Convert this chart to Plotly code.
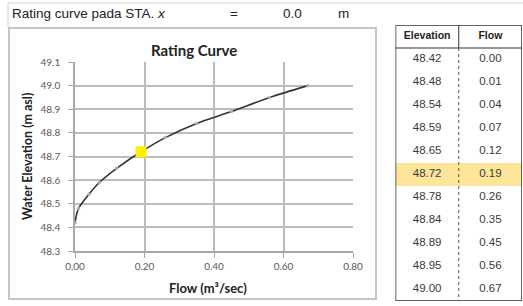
import plotly.graph_objects as go

# ---- data ----
flow = [0.00, 0.01, 0.04, 0.07, 0.12, 0.19, 0.26, 0.35, 0.45, 0.56, 0.67]
elevation = [48.42, 48.48, 48.54, 48.59, 48.65, 48.72, 48.78, 48.84, 48.89, 48.95, 49.00]
current_flow = [0.19]
current_elev = [48.72]
x_ticks = [0.0, 0.2, 0.4, 0.6, 0.8]
y_ticks = [48.3, 48.4, 48.5, 48.6, 48.7, 48.8, 48.9, 49.0, 49.1]
table_headers = ["Elevation", "Flow"]
header_text = "Rating curve pada STA. <i>x</i>"
sta_value = "0.0"
highlight_index = 5

W, H = 523, 306
def px(x):
    return x / W
def py(y):
    return 1 - y / H

fig = go.Figure()

# curve
fig.add_trace(go.Scatter(
    x=flow, y=elevation, mode="lines+markers",
    line=dict(color="#333333", width=1.6, shape="spline", smoothing=0.8),
    marker=dict(size=3.5, color="#a3adbd"),
    showlegend=False, hoverinfo="skip", xaxis="x", yaxis="y"))
fig.add_trace(go.Scatter(
    x=current_flow, y=current_elev, mode="markers",
    marker=dict(size=11, symbol="square", color="#FFEE00", line=dict(width=0)),
    showlegend=False, hoverinfo="skip", xaxis="x", yaxis="y"))

# table text through second axis pair: column 0/1, rows 0..11
n = len(flow)
rows = list(range(1, n + 1))
fig.add_trace(go.Scatter(
    x=[0.5] * n, y=rows, mode="text",
    text=[f"{v:.2f}" for v in elevation],
    textfont=dict(family="Liberation Sans, Arial", size=11.5, color="#3a3a3a"),
    showlegend=False, hoverinfo="skip", xaxis="x2", yaxis="y2"))
fig.add_trace(go.Scatter(
    x=[1.5] * n, y=rows, mode="text",
    text=[f"{v:.2f}" for v in flow],
    textfont=dict(family="Liberation Sans, Arial", size=11.5, color="#3a3a3a"),
    showlegend=False, hoverinfo="skip", xaxis="x2", yaxis="y2"))
fig.add_trace(go.Scatter(
    x=[0.5, 1.5], y=[0, 0], mode="text",
    text=[f"<b>{h}</b>" for h in table_headers],
    textfont=dict(family="Liberation Sans, Arial", size=10.5, color="#222"),
    showlegend=False, hoverinfo="skip", xaxis="x2", yaxis="y2"))

grid = "#bcbcbc"
tickfont = dict(family="Lato, Open Sans, sans-serif", size=10, color="#595959")

shapes = []
# header box lines
shapes.append(dict(type="line", xref="paper", yref="paper",
                   x0=px(8), x1=1, y0=py(3), y1=py(3),
                   line=dict(color="#cfcfcf", width=1)))
shapes.append(dict(type="line", xref="paper", yref="paper",
                   x0=px(8), x1=px(8), y0=py(3), y1=py(27),
                   line=dict(color="#cfcfcf", width=1)))
# chart box
shapes.append(dict(type="rect", xref="paper", yref="paper",
                   x0=px(9), x1=px(376), y0=py(28), y1=py(299),
                   line=dict(color="#c6c6c6", width=2)))
# table highlight row
shapes.append(dict(type="rect", xref="x2", yref="y2",
                   x0=0, x1=2, y0=highlight_index + 0.5, y1=highlight_index + 1.5,
                   fillcolor="#FFE59A", line=dict(width=0), layer="below"))
# table header separator
shapes.append(dict(type="line", xref="x2", yref="y2",
                   x0=0, x1=2, y0=0.5, y1=0.5,
                   line=dict(color="#333", width=1)))
# column divider: solid in header, dotted in body
shapes.append(dict(type="line", xref="x2", yref="y2",
                   x0=1, x1=1, y0=-0.5, y1=0.5,
                   line=dict(color="#333", width=1)))
shapes.append(dict(type="line", xref="x2", yref="y2",
                   x0=1, x1=1, y0=0.5, y1=n + 0.5,
                   line=dict(color="#555", width=1, dash="dot")))
# table outer border
shapes.append(dict(type="rect", xref="x2", yref="y2",
                   x0=0, x1=2, y0=-0.5, y1=n + 0.5,
                   line=dict(color="#333", width=1.5)))

hdr_font = dict(family="Liberation Sans, Arial", size=13.5, color="#222")
annotations = [
    dict(text=header_text, x=px(10), y=py(14), xref="paper", yref="paper",
         xanchor="left", yanchor="middle", showarrow=False, font=hdr_font),
    dict(text="=", x=px(234), y=py(14), xref="paper", yref="paper",
         xanchor="center", yanchor="middle", showarrow=False, font=hdr_font),
    dict(text=sta_value, x=px(292), y=py(14), xref="paper", yref="paper",
         xanchor="center", yanchor="middle", showarrow=False, font=hdr_font),
    dict(text="m", x=px(343), y=py(14), xref="paper", yref="paper",
         xanchor="center", yanchor="middle", showarrow=False, font=hdr_font),
    dict(text="<b>Rating Curve</b>", x=px(194), y=py(50), xref="paper", yref="paper",
         xanchor="center", yanchor="middle", showarrow=False,
         font=dict(family="Lato, Open Sans, sans-serif", size=15, color="#222")),
    dict(text="<b>Flow (m³/sec)</b>", x=px(208), y=py(288), xref="paper", yref="paper",
         xanchor="center", yanchor="middle", showarrow=False,
         font=dict(family="Lato, Open Sans, sans-serif", size=13, color="#222")),
    dict(text="<b>Water Elevation (m asl)</b>", x=px(27), y=py(157), xref="paper", yref="paper",
         xanchor="center", yanchor="middle", showarrow=False, textangle=-90,
         font=dict(family="Lato, Open Sans, sans-serif", size=12.5, color="#222")),
]

fig.update_layout(
    width=W, height=H,
    margin=dict(l=0, r=0, t=0, b=0, pad=0, autoexpand=False),
    paper_bgcolor="white", plot_bgcolor="white",
    xaxis=dict(domain=[px(75), px(353)], range=[0, 0.8], tickvals=x_ticks,
               tickformat=".2f", showgrid=True, gridcolor=grid, gridwidth=2,
               zeroline=False, showline=True, linecolor="#a8a8a8", linewidth=1.5,
               mirror=False, ticks="outside", ticklen=5, tickcolor="#a8a8a8",
               tickfont=tickfont, anchor="y", fixedrange=True, automargin=False),
    yaxis=dict(domain=[py(251), py(62)], range=[48.3, 49.1], tickvals=y_ticks,
               tickformat=".1f", showgrid=True, gridcolor=grid, gridwidth=2,
               zeroline=False, showline=True, linecolor="#a8a8a8", linewidth=1.5,
               ticks="outside", ticklen=5, tickcolor="#a8a8a8",
               ticklabelstandoff=6,
               tickfont=tickfont, anchor="x", fixedrange=True, automargin=False),
    xaxis2=dict(domain=[px(395.5), px(522)], range=[0, 2], visible=False,
                anchor="y2", fixedrange=True),
    yaxis2=dict(domain=[py(301), py(25)], range=[n + 0.5, -0.5], visible=False,
                anchor="x2", fixedrange=True),
    shapes=shapes, annotations=annotations,
)

fig.write_html("out.html", config={"displayModeBar": False},
               post_script="document.body.style.margin='0px';")
